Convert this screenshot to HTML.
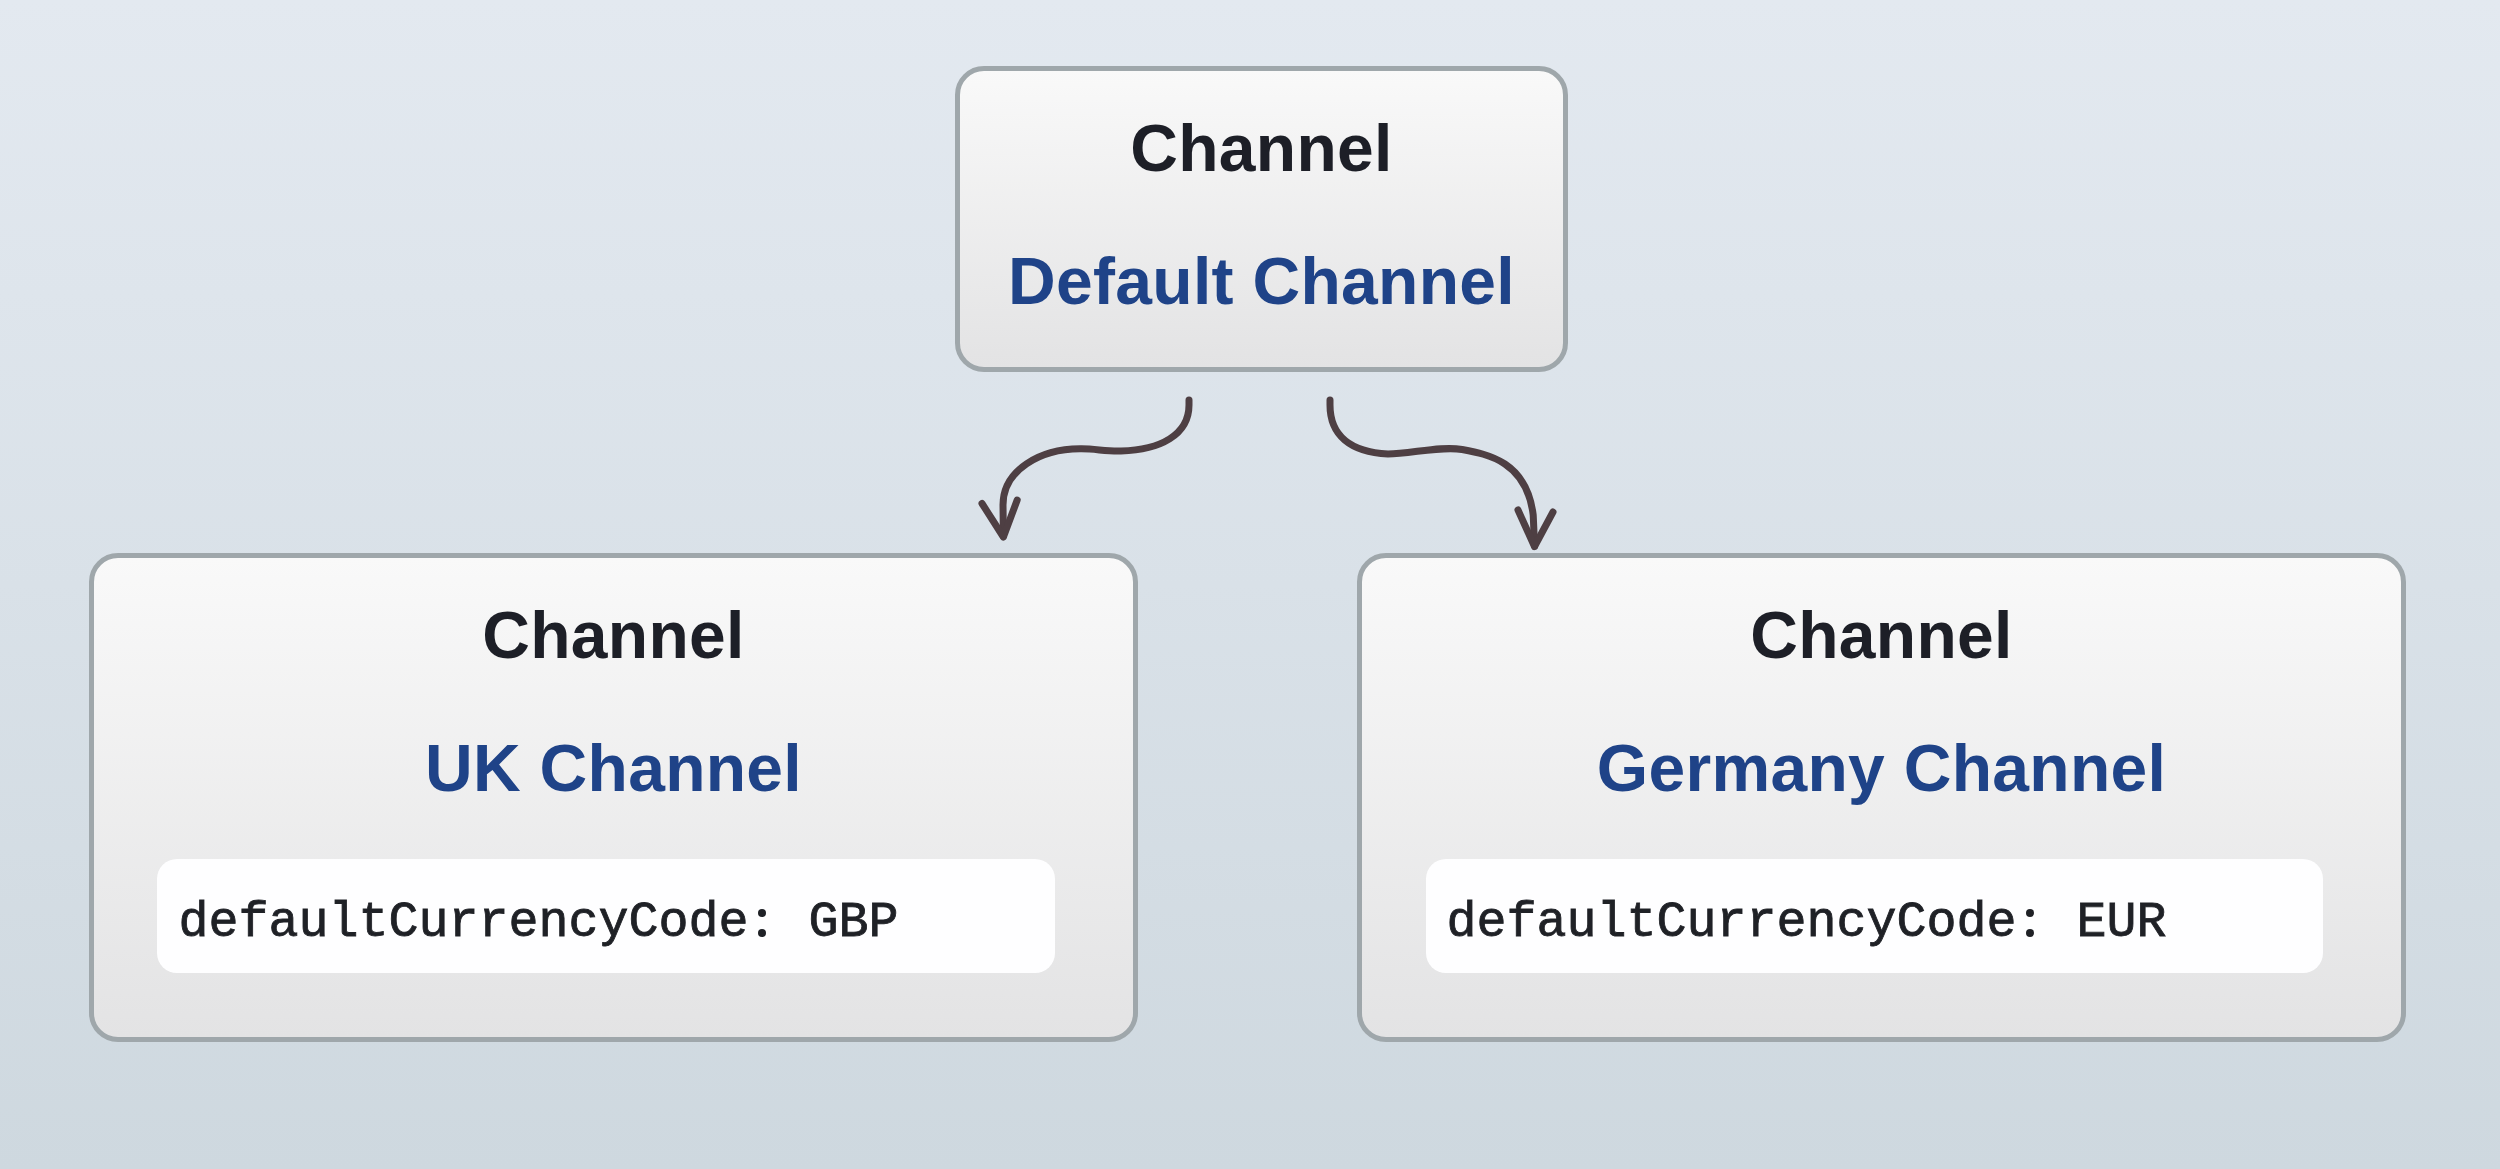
<!DOCTYPE html>
<html>
<head>
<meta charset="utf-8">
<style>
html, body { margin: 0; padding: 0; }
body {
  width: 2500px; height: 1169px; overflow: hidden; position: relative;
  background: linear-gradient(180deg, #e3e9f0 0%, #d9e1e8 50%, #ced8df 100%);
  font-family: "Liberation Sans", sans-serif;
}
.box {
  position: absolute; box-sizing: border-box;
  border: 5px solid #9fa7ab; border-radius: 29px;
  background: linear-gradient(180deg, #f9f9f9 0%, #e3e3e4 100%);
}
.t {
  position: absolute; left: 0; right: 0; text-align: center;
  font-weight: bold; font-size: 66px; line-height: 66px; white-space: nowrap; letter-spacing: 0.3px;
}
.t1 { color: #1d1f27; }
.t2 { color: #1f4388; }
.code {
  position: absolute; background: #fefeff; border-radius: 20px;
}
.code span {
  position: absolute; font-family: "Liberation Mono", monospace; font-size: 50px;
  line-height: 50px; color: #1f2126; white-space: nowrap; -webkit-text-stroke: 0.85px #1f2126;
}
svg { position: absolute; left: 0; top: 0; }
.c { color: transparent; -webkit-text-stroke: 0; font-weight: normal; }
.d { position: absolute; left: 579.6px; width: 8px; height: 8px; border-radius: 50%; background: #1f2126; }
</style>
</head>
<body>
<div class="box" style="left:955px;top:66px;width:613px;height:306px;">
  <div class="t t1" style="top:44px;">Channel</div>
  <div class="t t2" style="top:177px;">Default Channel</div>
</div>

<div class="box" style="left:89px;top:553px;width:1049px;height:489px;">
  <div class="t t1" style="top:44px;">Channel</div>
  <div class="t t2" style="top:177px;">UK Channel</div>
  <div class="code" style="left:63px;top:301px;width:898px;height:114px;"><span style="left:21.5px;top:39px;">defaultCurrencyCode<b class="c">:</b> GBP<i class="d" style="top:11px"></i><i class="d" style="top:31px"></i></span></div>
</div>

<div class="box" style="left:1357px;top:553px;width:1049px;height:489px;">
  <div class="t t1" style="top:44px;">Channel</div>
  <div class="t t2" style="top:177px;">Germany Channel</div>
  <div class="code" style="left:64px;top:301px;width:897px;height:114px;"><span style="left:20.5px;top:39px;">defaultCurrencyCode<b class="c">:</b> EUR<i class="d" style="top:11px"></i><i class="d" style="top:31px"></i></span></div>
</div>

<svg width="2500" height="1169" viewBox="0 0 2500 1169">
  <g fill="none" stroke="#4e3f43" stroke-width="7" stroke-linecap="round" stroke-linejoin="round">
    <path d="M1189 400 L1189 405 C1189 435 1160 450 1121 451 C1105 451.5 1095 448.5 1080 448.8 C1040 449 1003 470 1003 505 L1003.4 536"/>
    <path d="M982 503.5 L1003.4 537 L1017.2 500"/>
    <path d="M1330 400 L1330 405 C1330 435 1350 452 1388 454 C1410 454 1441 445.7 1462 449.5 C1488 454.3 1526.5 461.3 1533.2 515 L1534.6 546"/>
    <path d="M1518 510 L1534.5 546.5 L1553 512"/>
  </g>
</svg>
</body>
</html>
